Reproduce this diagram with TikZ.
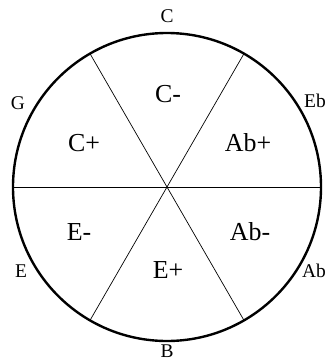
\documentclass[tikz,border=0pt]{standalone}
\usepackage{fontspec}
\setmainfont{Liberation Serif}
\tikzset{
  rim/.style={line width=2.4pt},
  divider/.style={line width=0.7pt},
  notelabel/.style={inner sep=0pt, font=\fontsize{19.5}{22}\selectfont},
  chordlabel/.style={inner sep=0pt, font=\fontsize{26}{29}\selectfont},
}
\begin{document}
\begin{tikzpicture}[x=1bp,y=-1bp]
\useasboundingbox (0,0) rectangle (326,362);
\coordinate (O) at (167,187);
\draw[rim] (O) circle[radius=154];
\path (O) ++(0:154) coordinate (a0)
      (O) ++(60:154) coordinate (a60)
      (O) ++(120:154) coordinate (a120)
      (O) ++(180:154) coordinate (a180)
      (O) ++(240:154) coordinate (a240)
      (O) ++(300:154) coordinate (a300);
\draw[divider] (a0) -- (a180);
\draw[divider] (a60) -- (a240);
\draw[divider] (a120) -- (a300);
\node[notelabel] (nC) at (167,16.5) {C};
\node[notelabel] (nG) at (18,103) {G};
\node[notelabel, anchor=west] (nEb) at (304,101) {Eb};
\node[notelabel] (nE) at (21,271) {E};
\node[notelabel, anchor=west] (nAb) at (302,271) {Ab};
\node[notelabel] (nB) at (167,351.5) {B};
\node[chordlabel] (cCm) at (168,94) {C-};
\node[chordlabel] (cCp) at (84,143) {C+};
\node[chordlabel] (cAbp) at (248,143) {Ab+};
\node[chordlabel] (cEm) at (79,232) {E-};
\node[chordlabel] (cAbm) at (250,232) {Ab-};
\node[chordlabel] (cEp) at (168,270) {E+};
\end{tikzpicture}
\end{document}
